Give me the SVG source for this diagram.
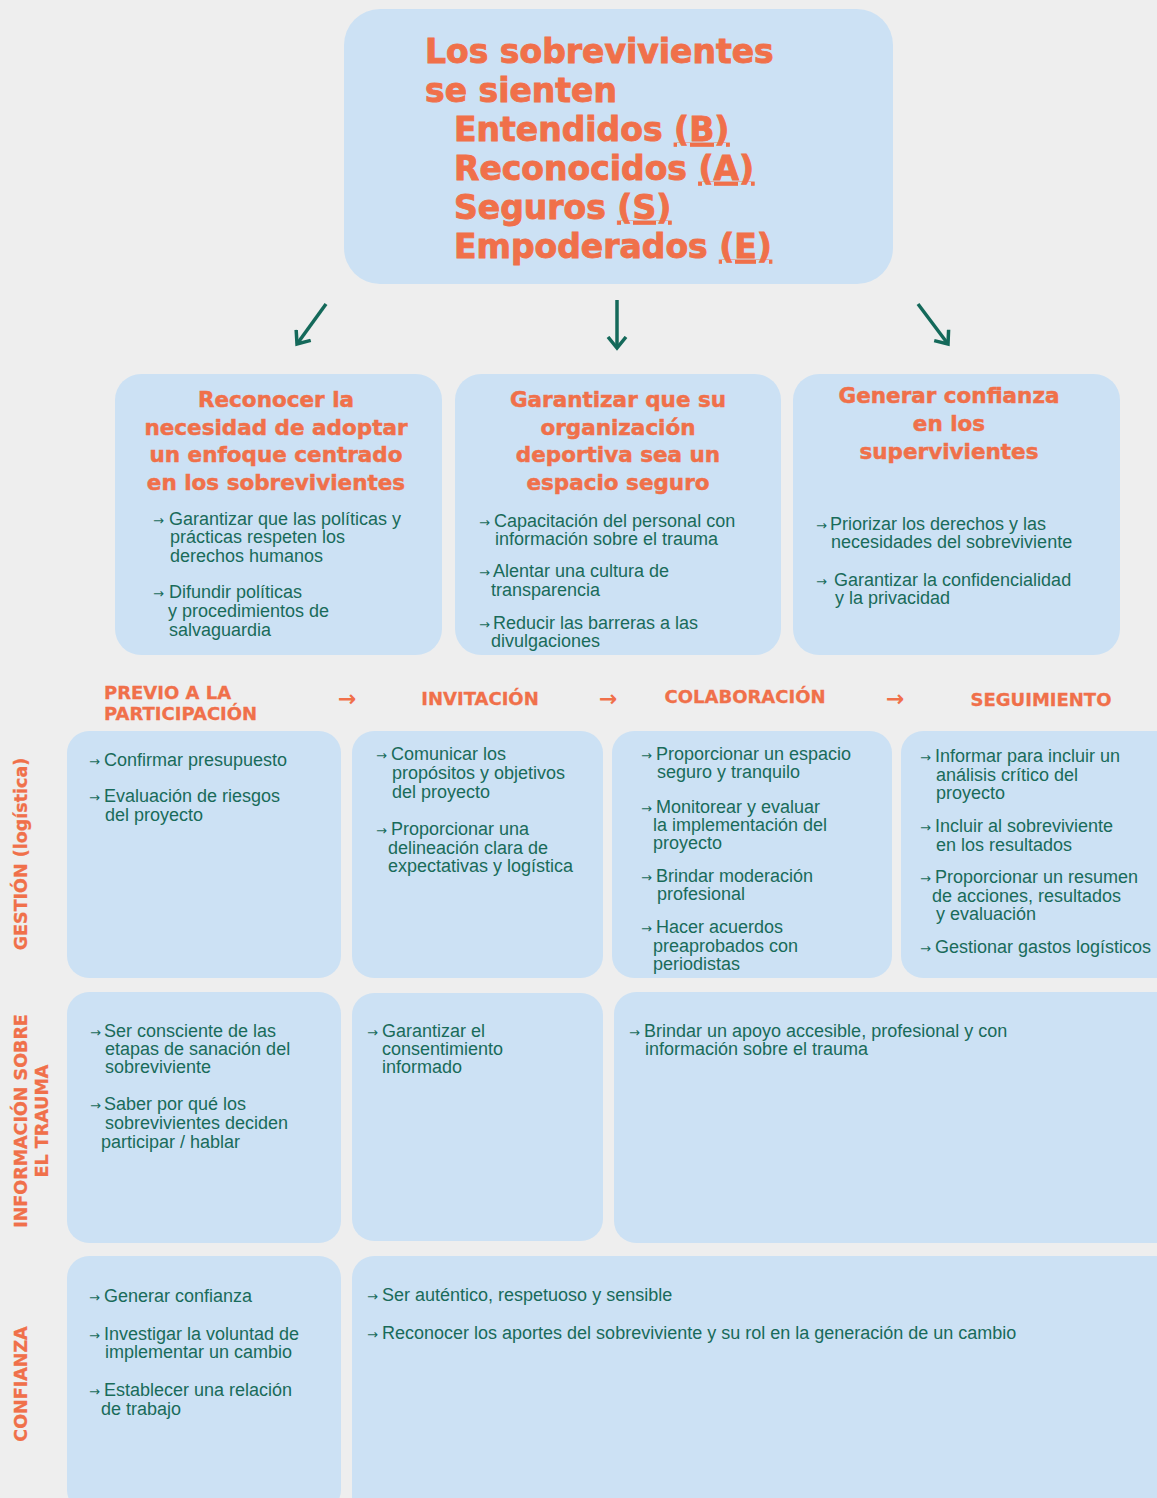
<svg xmlns="http://www.w3.org/2000/svg" width="1157" height="1498" viewBox="0 0 1157 1498">
<style>
.bg{fill:#eeeeee}
.box{fill:#cce1f4}
.t1{font-family:"DejaVu Sans",sans-serif;font-weight:bold;font-size:33px;fill:#f0704a;stroke:#f0704a;stroke-width:0.9}
.t2{font-family:"DejaVu Sans",sans-serif;font-weight:bold;font-size:21.5px;fill:#f0704a;stroke:#f0704a;stroke-width:0.5;text-anchor:middle}
.hd{font-family:"DejaVu Sans",sans-serif;font-weight:bold;font-size:18px;fill:#f0704a;stroke:#f0704a;stroke-width:0.3}
.lb{font-family:"DejaVu Sans",sans-serif;font-weight:bold;font-size:17.5px;fill:#f0704a;stroke:#f0704a;stroke-width:0.3;text-anchor:middle}
.ha{font-family:"DejaVu Sans",sans-serif;font-weight:bold;font-size:22px;fill:#f0704a}
.b{font-family:"Liberation Sans",Arial,sans-serif;font-size:18px;fill:#196b5a}
.ar{font-family:"DejaVu Sans",sans-serif;font-size:13px;fill:#196b5a}
.u{text-decoration:underline}
.con{stroke:#14695a;stroke-width:3.5;fill:none}
</style>
<defs>
<marker id="ah" markerUnits="userSpaceOnUse" markerWidth="24" markerHeight="24" viewBox="-12 -12 24 24" refX="0" refY="0" orient="auto">
<path d="M-11,-9 L0,0 L-11,9" stroke="#14695a" stroke-width="3.5" fill="none"/>
</marker>
</defs>
<rect class="bg" x="0" y="0" width="1157" height="1498"/>

<g id="top">
<rect class="box" x="344" y="9" width="549" height="275" rx="36"/>
<text class="t1" x="425" y="63">Los sobrevivientes</text>
<text class="t1" x="425" y="102">se sienten</text>
<text class="t1" x="454" y="141">Entendidos <tspan class="u">(B)</tspan></text>
<text class="t1" x="454" y="180">Reconocidos <tspan class="u">(A)</tspan></text>
<text class="t1" x="454" y="219">Seguros <tspan class="u">(S)</tspan></text>
<text class="t1" x="454" y="258">Empoderados <tspan class="u">(E)</tspan></text>
</g>

<g id="connectors">
<line class="con" x1="326" y1="304" x2="297" y2="344" marker-end="url(#ah)"/>
<line class="con" x1="617" y1="300" x2="617" y2="348" marker-end="url(#ah)"/>
<line class="con" x1="918" y1="304" x2="948" y2="344" marker-end="url(#ah)"/>
</g>

<g id="boxA">
<rect class="box" x="115" y="374" width="327" height="281" rx="26"/>
<text class="t2" x="276" y="407">Reconocer la</text>
<text class="t2" x="276" y="435">necesidad de adoptar</text>
<text class="t2" x="276" y="462">un enfoque centrado</text>
<text class="t2" x="276" y="490">en los sobrevivientes</text>
<text class="ar" x="153" y="525">→</text>
<text class="b" x="169" y="525">Garantizar que las políticas y</text>
<text class="b" x="170" y="543">prácticas respeten los</text>
<text class="b" x="170" y="562">derechos humanos</text>
<text class="ar" x="153" y="598">→</text>
<text class="b" x="169" y="598">Difundir políticas</text>
<text class="b" x="168" y="617">y procedimientos de</text>
<text class="b" x="169" y="636">salvaguardia</text>
</g>

<g id="boxB">
<rect class="box" x="455" y="374" width="326" height="281" rx="26"/>
<text class="t2" x="618" y="407">Garantizar que su</text>
<text class="t2" x="618" y="435">organización</text>
<text class="t2" x="618" y="462">deportiva sea un</text>
<text class="t2" x="618" y="490">espacio seguro</text>
<text class="ar" x="479" y="527">→</text>
<text class="b" x="494" y="527">Capacitación del personal con</text>
<text class="b" x="495" y="545">información sobre el trauma</text>
<text class="ar" x="479" y="577">→</text>
<text class="b" x="493" y="577">Alentar una cultura de</text>
<text class="b" x="491" y="596">transparencia</text>
<text class="ar" x="479" y="629">→</text>
<text class="b" x="493" y="629">Reducir las barreras a las</text>
<text class="b" x="491" y="647">divulgaciones</text>
</g>

<g id="boxC">
<rect class="box" x="793" y="374" width="327" height="281" rx="26"/>
<text class="t2" x="949" y="403">Generar confianza</text>
<text class="t2" x="949" y="431">en los</text>
<text class="t2" x="949" y="459">supervivientes</text>
<text class="ar" x="816" y="530">→</text>
<text class="b" x="830" y="530">Priorizar los derechos y las</text>
<text class="b" x="831" y="548">necesidades del sobreviviente</text>
<text class="ar" x="816" y="586">→</text>
<text class="b" x="834" y="586">Garantizar la confidencialidad</text>
<text class="b" x="835" y="604">y la privacidad</text>
</g>

<g id="headers">
<text class="hd" x="104" y="699">PREVIO A LA</text>
<text class="hd" x="104" y="720">PARTICIPACIÓN</text>
<text class="ha" x="338" y="706">→</text>
<text class="hd" x="480" y="705" text-anchor="middle">INVITACIÓN</text>
<text class="ha" x="599" y="706">→</text>
<text class="hd" x="745" y="703" text-anchor="middle">COLABORACIÓN</text>
<text class="ha" x="886" y="706">→</text>
<text class="hd" x="1041" y="706" text-anchor="middle">SEGUIMIENTO</text>
</g>

<g id="rowlabels">
<text class="lb" transform="translate(27,854) rotate(-90)">GESTIÓN (logística)</text>
<text class="lb" transform="translate(27,1121) rotate(-90)">INFORMACIÓN SOBRE</text>
<text class="lb" transform="translate(48,1121) rotate(-90)">EL TRAUMA</text>
<text class="lb" transform="translate(27,1384) rotate(-90)">CONFIANZA</text>
</g>

<g id="r1c1">
<rect class="box" x="67" y="731" width="274" height="247" rx="22"/>
<text class="ar" x="89" y="766">→</text>
<text class="b" x="104" y="766">Confirmar presupuesto</text>
<text class="ar" x="89" y="802">→</text>
<text class="b" x="104" y="802">Evaluación de riesgos</text>
<text class="b" x="105" y="821">del proyecto</text>
</g>

<g id="r1c2">
<rect class="box" x="352" y="731" width="251" height="247" rx="22"/>
<text class="ar" x="376" y="760">→</text>
<text class="b" x="391" y="760">Comunicar los</text>
<text class="b" x="392" y="779">propósitos y objetivos</text>
<text class="b" x="392" y="798">del proyecto</text>
<text class="ar" x="376" y="835">→</text>
<text class="b" x="391" y="835">Proporcionar una</text>
<text class="b" x="388" y="854">delineación clara de</text>
<text class="b" x="388" y="872">expectativas y logística</text>
</g>

<g id="r1c3">
<rect class="box" x="612" y="731" width="280" height="247" rx="22"/>
<text class="ar" x="641" y="760">→</text>
<text class="b" x="656" y="760">Proporcionar un espacio</text>
<text class="b" x="657" y="778">seguro y tranquilo</text>
<text class="ar" x="641" y="813">→</text>
<text class="b" x="656" y="813">Monitorear y evaluar</text>
<text class="b" x="653" y="831">la implementación del</text>
<text class="b" x="653" y="849">proyecto</text>
<text class="ar" x="641" y="882">→</text>
<text class="b" x="656" y="882">Brindar moderación</text>
<text class="b" x="657" y="900">profesional</text>
<text class="ar" x="641" y="933">→</text>
<text class="b" x="656" y="933">Hacer acuerdos</text>
<text class="b" x="653" y="952">preaprobados con</text>
<text class="b" x="653" y="970">periodistas</text>
</g>

<g id="r1c4">
<rect class="box" x="901" y="731" width="290" height="247" rx="22"/>
<text class="ar" x="920" y="762">→</text>
<text class="b" x="935" y="762">Informar para incluir un</text>
<text class="b" x="936" y="781">análisis crítico del</text>
<text class="b" x="936" y="799">proyecto</text>
<text class="ar" x="920" y="832">→</text>
<text class="b" x="935" y="832">Incluir al sobreviviente</text>
<text class="b" x="936" y="851">en los resultados</text>
<text class="ar" x="920" y="883">→</text>
<text class="b" x="935" y="883">Proporcionar un resumen</text>
<text class="b" x="932" y="902">de acciones, resultados</text>
<text class="b" x="936" y="920">y evaluación</text>
<text class="ar" x="920" y="953">→</text>
<text class="b" x="935" y="953">Gestionar gastos logísticos</text>
</g>

<g id="r2c1">
<rect class="box" x="67" y="992" width="274" height="251" rx="22"/>
<text class="ar" x="90" y="1037">→</text>
<text class="b" x="104" y="1037">Ser consciente de las</text>
<text class="b" x="105" y="1055">etapas de sanación del</text>
<text class="b" x="105" y="1073">sobreviviente</text>
<text class="ar" x="90" y="1110">→</text>
<text class="b" x="104" y="1110">Saber por qué los</text>
<text class="b" x="105" y="1129">sobrevivientes deciden</text>
<text class="b" x="101" y="1148">participar / hablar</text>
</g>

<g id="r2c2">
<rect class="box" x="352" y="993" width="251" height="248" rx="22"/>
<text class="ar" x="367" y="1037">→</text>
<text class="b" x="382" y="1037">Garantizar el</text>
<text class="b" x="382" y="1055">consentimiento</text>
<text class="b" x="382" y="1073">informado</text>
</g>

<g id="r2c3">
<rect class="box" x="614" y="992" width="580" height="251" rx="22"/>
<text class="ar" x="629" y="1037">→</text>
<text class="b" x="644" y="1037">Brindar un apoyo accesible, profesional y con</text>
<text class="b" x="645" y="1055">información sobre el trauma</text>
</g>

<g id="r3c1">
<rect class="box" x="67" y="1256" width="274" height="256" rx="22"/>
<text class="ar" x="89" y="1302">→</text>
<text class="b" x="104" y="1302">Generar confianza</text>
<text class="ar" x="89" y="1340">→</text>
<text class="b" x="104" y="1340">Investigar la voluntad de</text>
<text class="b" x="105" y="1358">implementar un cambio</text>
<text class="ar" x="89" y="1396">→</text>
<text class="b" x="104" y="1396">Establecer una relación</text>
<text class="b" x="101" y="1415">de trabajo</text>
</g>

<g id="r3c2">
<rect class="box" x="352" y="1256" width="840" height="270" rx="22"/>
<text class="ar" x="367" y="1301">→</text>
<text class="b" x="382" y="1301">Ser auténtico, respetuoso y sensible</text>
<text class="ar" x="367" y="1339">→</text>
<text class="b" x="382" y="1339">Reconocer los aportes del sobreviviente y su rol en la generación de un cambio</text>
</g>
</svg>
